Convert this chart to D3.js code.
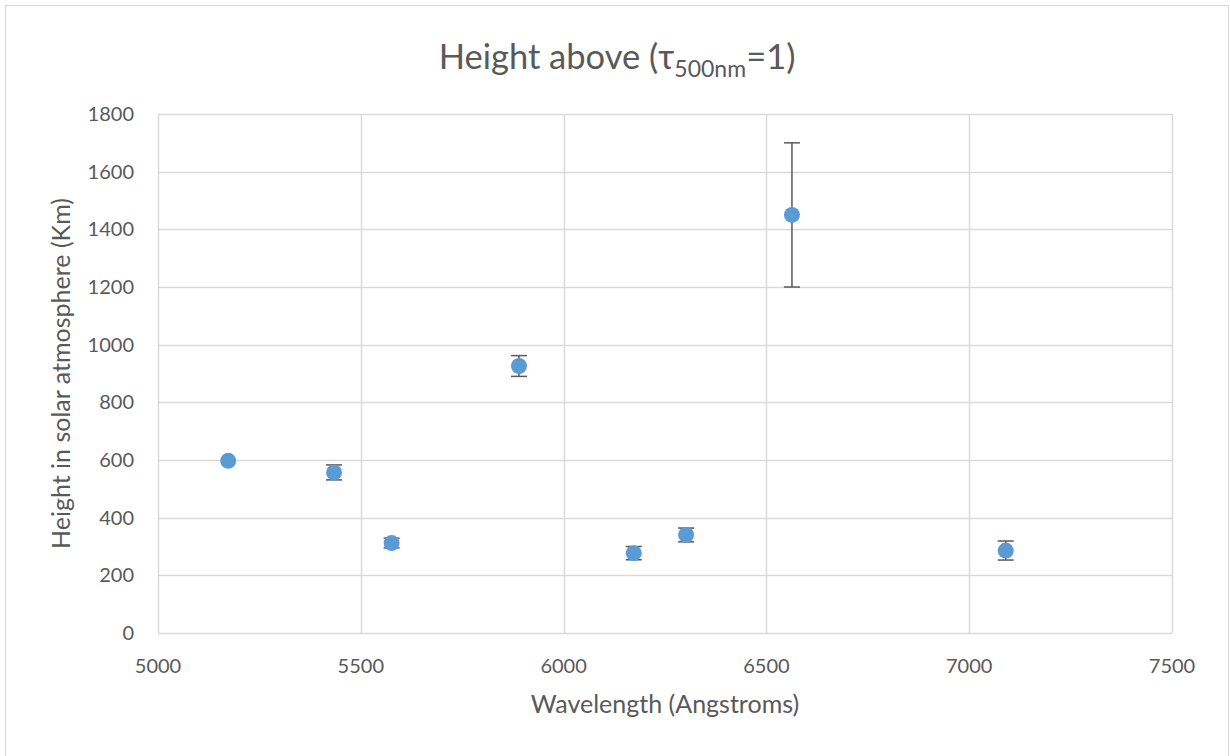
<!DOCTYPE html>
<html>
<head>
<meta charset="utf-8">
<script src="https://cdn.jsdelivr.net/npm/d3@7"></script>
<style>
  body { margin: 0; background: #fff; }
  text { font-family: Lato, "Open Sans", sans-serif; fill: #595959; }
</style>
</head>
<body>
<div id="chart"></div>
<script>
// data
var wavelengths = [5173, 5434, 5576, 5890, 6173, 6302, 6563, 7090];
var heights = [597, 557, 312, 926, 277, 340, 1450, 286];
var errors = [0, 26, 17, 36, 23, 24, 250, 33];
var xTicks = [5000, 5500, 6000, 6500, 7000, 7500];
var yTicks = [0, 200, 400, 600, 800, 1000, 1200, 1400, 1600, 1800];

var width = 1230,
	height = 756,
	margin = { left: 158, top: 114, right: 58, bottom: 123 };

var points = wavelengths.map(function(w, i) {
	return { x: w, y: heights[i], e: errors[i] };
});

var svg = d3.select('#chart').append('svg')
	.attr('width', width)
	.attr('height', height);

svg.append('rect')
	.attr('x', 5.5).attr('y', 5.5)
	.attr('width', 1223).attr('height', 770)
	.attr('fill', '#fff')
	.attr('stroke', '#d9d9d9');

var x = d3.scaleLinear().domain([5000, 7500]).range([margin.left, width - margin.right]);
var y = d3.scaleLinear().domain([0, 1800]).range([height - margin.bottom, margin.top]);

// gridlines
svg.append('g').selectAll('line').data(yTicks).enter().append('line')
	.attr('x1', x(5000)).attr('x2', x(7500))
	.attr('y1', function(d) { return Math.round(y(d)) + 0.5; })
	.attr('y2', function(d) { return Math.round(y(d)) + 0.5; })
	.attr('stroke', '#d9d9d9').attr('stroke-width', 1.5);

svg.append('g').selectAll('line').data(xTicks).enter().append('line')
	.attr('y1', y(0)).attr('y2', y(1800))
	.attr('x1', function(d) { return Math.round(x(d)) + 0.5; })
	.attr('x2', function(d) { return Math.round(x(d)) + 0.5; })
	.attr('stroke', '#d9d9d9').attr('stroke-width', 1.5);

// tick labels
svg.append('g').selectAll('text').data(yTicks).enter().append('text')
	.attr('x', x(5000) - 24)
	.attr('y', function(d) { return y(d); })
	.attr('dy', '0.35em')
	.attr('text-anchor', 'end')
	.style('font-size', '20px')
	.text(function(d) { return d; });

svg.append('g').selectAll('text').data(xTicks).enter().append('text')
	.attr('x', function(d) { return x(d); })
	.attr('y', y(0) + 40)
	.attr('text-anchor', 'middle')
	.style('font-size', '20px')
	.text(function(d) { return d; });

// error bars
var eb = svg.append('g').selectAll('g').data(points.filter(function(d) { return d.e > 0; }))
	.enter().append('g')
	.attr('stroke', '#595959').attr('stroke-width', 1.5);

eb.append('line')
	.attr('x1', function(d) { return x(d.x); }).attr('x2', function(d) { return x(d.x); })
	.attr('y1', function(d) { return y(d.y - d.e); }).attr('y2', function(d) { return y(d.y + d.e); });
eb.append('line')
	.attr('x1', function(d) { return x(d.x) - 8; }).attr('x2', function(d) { return x(d.x) + 8; })
	.attr('y1', function(d) { return y(d.y + d.e); }).attr('y2', function(d) { return y(d.y + d.e); });
eb.append('line')
	.attr('x1', function(d) { return x(d.x) - 8; }).attr('x2', function(d) { return x(d.x) + 8; })
	.attr('y1', function(d) { return y(d.y - d.e); }).attr('y2', function(d) { return y(d.y - d.e); });

// points
svg.append('g').selectAll('circle').data(points).enter().append('circle')
	.attr('cx', function(d) { return x(d.x); })
	.attr('cy', function(d) { return y(d.y); })
	.attr('r', 8)
	.attr('fill', '#5b9bd5');

// title
var title = svg.append('text')
	.attr('x', 617).attr('y', 69)
	.attr('text-anchor', 'middle')
	.style('font-size', '34.5px');
title.append('tspan').text('Height above (τ');
title.append('tspan').attr('dy', 8).style('font-size', '23px').text('500nm');
title.append('tspan').attr('dy', -8).text('=1)');

svg.append('text')
	.attr('x', (x(5000) + x(7500)) / 2).attr('y', 713)
	.attr('text-anchor', 'middle')
	.style('font-size', '25px')
	.text('Wavelength (Angstroms)');

svg.append('text')
	.attr('transform', 'translate(70,' + (y(900)) + ') rotate(-90)')
	.attr('text-anchor', 'middle')
	.style('font-size', '25px')
	.text('Height in solar atmosphere (Km)');
</script>
</body>
</html>
